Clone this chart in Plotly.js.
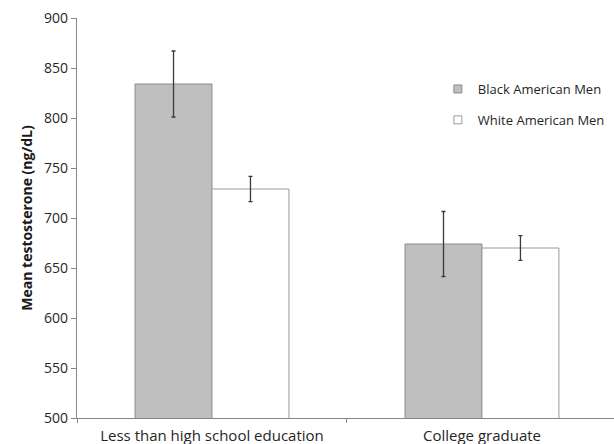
<!DOCTYPE html>
<html>
<head>
<meta charset="utf-8">
<script src="https://cdn.plot.ly/plotly-3.0.1.min.js"></script>
<style>html,body{margin:0;padding:0;background:#fff;}#chart{width:614px;height:444px;}</style>
</head>
<body>
<div id="chart"></div>
<script>
var categories = ["Less than high school education", "College graduate"];
var seriesNames = ["Black American Men", "White American Men"];
var blackMeans = [834, 674];
var blackErr = [33, 32.5];
var whiteMeans = [729, 670];
var whiteErr = [12.7, 12.3];
var yTickVals = [500, 550, 600, 650, 700, 750, 800, 850, 900];

var font = "'Open Sans', 'Liberation Sans', sans-serif";

var traces = [
  {
    type: "bar", x: categories, y: blackMeans, name: seriesNames[0], showlegend: false,
    marker: {color: "#bfbfbf", line: {color: "#8c8c8c", width: 1}},
    error_y: {type: "data", array: blackErr, visible: true, color: "#3a3a3a", thickness: 1.3, width: 2}
  },
  {
    type: "bar", x: categories, y: whiteMeans, name: seriesNames[1], showlegend: false,
    marker: {color: "#ffffff", line: {color: "#9a9a9a", width: 1}},
    error_y: {type: "data", array: whiteErr, visible: true, color: "#3a3a3a", thickness: 1.3, width: 2}
  },
  {
    type: "scatter", mode: "markers", x: [null], y: [null], name: seriesNames[0], legendgroup: "a",
    marker: {symbol: "square", size: 8, color: "#bfbfbf", line: {color: "#8c8c8c", width: 1}}
  },
  {
    type: "scatter", mode: "markers", x: [null], y: [null], name: seriesNames[1], legendgroup: "b",
    marker: {symbol: "square", size: 8, color: "#ffffff", line: {color: "#9a9a9a", width: 1}}
  }
];

var layout = {
  width: 614, height: 444,
  margin: {l: 77, r: 0, t: 18, b: 26, pad: 0},
  paper_bgcolor: "#ffffff", plot_bgcolor: "#ffffff",
  font: {family: font, size: 13, color: "#262626"},
  barmode: "group", bargap: 0.43, bargroupgap: 0,
  showlegend: true,
  legend: {x: 0.672, y: 0.86, xanchor: "left", yanchor: "top", tracegroupgap: 11,
           font: {family: font, size: 13, color: "#262626"}, bgcolor: "rgba(0,0,0,0)", itemwidth: 30},
  xaxis: {
    type: "category", range: [-0.5, 1.489], showline: true, linecolor: "#868686", linewidth: 1.3,
    ticks: "outside", tickson: "boundaries", ticklen: 4, tickcolor: "#868686",
    showgrid: false, zeroline: false, fixedrange: true, ticklabelstandoff: 4,
    tickfont: {family: font, size: 15, color: "#262626"}
  },
  yaxis: {
    range: [500, 900], tickvals: yTickVals, showline: true, linecolor: "#868686", linewidth: 1.3,
    ticks: "outside", ticklen: 5, tickcolor: "#868686", showgrid: false, zeroline: false,
    tickfont: {family: font, size: 14, color: "#262626"},
    title: {text: "Mean testosterone (ng/dL)", font: {family: font, size: 14, color: "#1a1a1a", weight: "bold"}, standoff: 8}
  }
};

Plotly.newPlot("chart", traces, layout, {displayModeBar: false, staticPlot: true});
</script>
</body>
</html>
